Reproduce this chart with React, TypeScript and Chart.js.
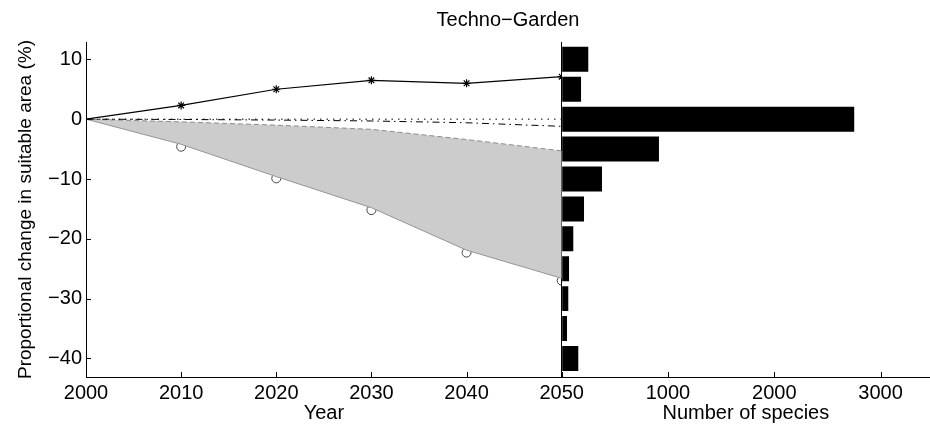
import { useEffect, useRef } from 'react';
import { Chart, registerables } from 'chart.js';

Chart.register(...registerables);

// Years sampled for every scenario line
const YEARS = [2000, 2010, 2020, 2030, 2040, 2050];

// Proportional change in suitable area (%) per line
const GAIN_LINE = [0, 2.3, 5.0, 6.5, 6.0, 7.1];
const ZERO_LINE = [0, 0, 0, 0, 0, 0];
const DASHDOT_LINE = [0, -0.05, -0.15, -0.3, -0.6, -1.2];
const BAND_UPPER = [0, -0.45, -1.0, -1.7, -3.4, -5.3];
const BAND_LOWER = [0, -4.2, -9.6, -14.8, -21.9, -26.6];
const CIRCLE_MARKS = [null, -4.6, -9.9, -15.2, -22.3, -27.0];

// Histogram of species by change class
const BIN_CENTERS = [10, 5, 0, -5, -10, -15, -20, -25, -30, -35, -40];
const SPECIES_COUNTS = [250, 182, 2752, 915, 379, 210, 109, 69, 62, 50, 156];

// Tick values
const YEAR_TICKS = [2000, 2010, 2020, 2030, 2040, 2050];
const COUNT_TICKS = [0, 1000, 2000, 3000];
const CHANGE_TICKS = [-40, -30, -20, -10, 0, 10];

// Axis ranges
const YEAR_MIN = 2000;
const YEAR_MAX = 2050;
const CHANGE_MIN = -43.1;
const CHANGE_MAX = 12.9;
const COUNT_MAX = 3465;

const FONT = "'Liberation Sans', Arial, Helvetica, sans-serif";
const TICK_LEN = 5;

const toPoints = (vals: (number | null)[]) => YEARS.map((x, i) => ({ x, y: vals[i] }));

// MATLAB-style tick marks that point into the plot area
const innerTicks = {
  id: 'innerTicks',
  afterDraw(chart: any) {
    const { ctx, chartArea } = chart;
    ctx.save();
    ctx.strokeStyle = '#000';
    ctx.lineWidth = 1;
    ctx.beginPath();
    for (const id of ['x', 'x2']) {
      const s = chart.scales[id];
      s.ticks.forEach((_t: any, i: number) => {
        const px = Math.round(s.getPixelForTick(i)) + 0.5;
        ctx.moveTo(px, chartArea.bottom);
        ctx.lineTo(px, chartArea.bottom - TICK_LEN);
      });
    }
    const ys = chart.scales.y;
    ys.ticks.forEach((_t: any, i: number) => {
      const py = Math.round(ys.getPixelForTick(i)) + 0.5;
      ctx.moveTo(chartArea.left, py);
      ctx.lineTo(chartArea.left + TICK_LEN, py);
    });
    ctx.stroke();
    ctx.restore();
  },
};

const fixSize = (size: { width?: number; height?: number }) => (scale: any) => {
  if (size.width !== undefined) scale.width = size.width;
  if (size.height !== undefined) scale.height = size.height;
  scale.paddingLeft = 0;
  scale.paddingRight = 0;
  scale.paddingTop = 0;
  scale.paddingBottom = 0;
};

const setTicks = (values: number[]) => (scale: any) => {
  scale.ticks = values.map((value) => ({ value }));
};

export default function App() {
  const ref = useRef<HTMLCanvasElement | null>(null);

  useEffect(() => {
    if (!ref.current) return;
    Chart.defaults.font.family = FONT;
    Chart.defaults.color = '#000';

    const chart = new Chart(ref.current, {
      type: 'line',
      data: {
        datasets: [
          {
            label: 'gain',
            data: toPoints(GAIN_LINE),
            borderColor: '#000',
            borderWidth: 1.2,
            pointStyle: 'star',
            pointRadius: (c: any) => (c.dataIndex === 0 ? 0 : 4),
            pointBorderColor: '#000',
            pointBorderWidth: 1.2,
            tension: 0,
            order: 0,
            xAxisID: 'x',
            yAxisID: 'y',
          },
          {
            label: 'dash-dot',
            data: toPoints(DASHDOT_LINE),
            borderColor: '#000',
            borderWidth: 1,
            borderDash: [7, 4, 1.5, 4],
            pointRadius: 0,
            order: 1,
            xAxisID: 'x',
            yAxisID: 'y',
          },
          {
            label: 'zero',
            data: toPoints(ZERO_LINE),
            borderColor: '#000',
            borderWidth: 1,
            borderDash: [1.5, 5],
            pointRadius: 0,
            order: 2,
            xAxisID: 'x',
            yAxisID: 'y',
          },
          {
            label: 'band upper',
            data: toPoints(BAND_UPPER),
            borderColor: '#8c8c8c',
            borderWidth: 1,
            borderDash: [5, 3],
            pointRadius: 0,
            order: 3,
            xAxisID: 'x',
            yAxisID: 'y',
          },
          {
            label: 'band lower',
            data: toPoints(BAND_LOWER),
            borderColor: '#959595',
            borderWidth: 1,
            backgroundColor: '#cccccc',
            fill: 3,
            pointRadius: 0,
            order: 4,
            xAxisID: 'x',
            yAxisID: 'y',
          },
          {
            label: 'circles',
            data: toPoints(CIRCLE_MARKS),
            showLine: false,
            pointStyle: 'circle',
            pointRadius: 4.5,
            pointBorderColor: '#444',
            pointBackgroundColor: 'rgba(0,0,0,0)',
            pointBorderWidth: 1,
            order: 5,
            xAxisID: 'x',
            yAxisID: 'y',
          },
          {
            type: 'bar',
            label: 'species',
            indexAxis: 'y',
            grouped: false,
            data: BIN_CENTERS.map((y, i) => ({ x: SPECIES_COUNTS[i], y })),
            backgroundColor: '#000',
            borderWidth: 0,
            categoryPercentage: 1,
            barPercentage: 0.835,
            order: 6,
            xAxisID: 'x2',
            yAxisID: 'y',
          } as any,
        ],
      },
      options: {
        responsive: false,
        animation: false,
        events: [],
        layout: { padding: 0, autoPadding: false },
        plugins: {
          legend: { display: false },
          tooltip: { enabled: false },
          title: {
            display: true,
            text: 'Techno\u2212Garden',
            fullSize: false,
            color: '#000',
            font: { family: FONT, size: 20, weight: 'normal' },
            padding: { top: 8, bottom: 10 },
          },
        },
        scales: {
          x: {
            type: 'linear',
            axis: 'x',
            position: 'bottom',
            stack: 'bottomAxes',
            stackWeight: 475.7,
            offset: false,
            min: YEAR_MIN,
            max: YEAR_MAX,
            grid: { display: false, drawTicks: false, offset: false },
            border: { display: true, color: '#000', width: 1 },
            afterBuildTicks: setTicks(YEAR_TICKS),
            ticks: {
              maxRotation: 0,
              autoSkip: false,
              padding: 4,
              color: '#000',
              font: { family: FONT, size: 20 },
              callback: (v: any) => String(v),
            },
            title: {
              display: true,
              text: 'Year',
              color: '#000',
              font: { family: FONT, size: 20 },
              padding: { top: 0, bottom: 0 },
            },
            afterFit: fixSize({ height: 48 }),
          },
          x2: {
            type: 'linear',
            axis: 'x',
            position: 'bottom',
            stack: 'bottomAxes',
            stackWeight: 368.3,
            offset: false,
            z: 1,
            min: 0,
            max: COUNT_MAX,
            grid: {
              display: true,
              drawTicks: false,
              drawOnChartArea: true,
              offset: false,
              lineWidth: 1,
              color: (c: any) => (c.tick && c.tick.value === 0 ? '#000' : 'rgba(0,0,0,0)'),
            },
            border: { display: true, color: '#000', width: 1 },
            afterBuildTicks: setTicks(COUNT_TICKS),
            ticks: {
              maxRotation: 0,
              autoSkip: false,
              padding: 4,
              color: '#000',
              font: { family: FONT, size: 20 },
              callback: (v: any) => (v === 0 ? '' : String(v)),
            },
            title: {
              display: true,
              text: 'Number of species',
              color: '#000',
              font: { family: FONT, size: 20 },
              padding: { top: 0, bottom: 0 },
            },
            afterFit: fixSize({ height: 48 }),
          },
          y: {
            type: 'linear',
            axis: 'y',
            position: 'left',
            offset: false,
            min: CHANGE_MIN,
            max: CHANGE_MAX,
            grid: { display: false, drawTicks: false, offset: false },
            border: { display: true, color: '#000', width: 1 },
            afterBuildTicks: setTicks(CHANGE_TICKS),
            ticks: {
              autoSkip: false,
              padding: 4,
              color: '#000',
              font: { family: FONT, size: 20 },
              callback: (v: any) => String(v).replace('-', '\u2212'),
            },
            title: {
              display: true,
              text: 'Proportional change in suitable area (%)',
              color: '#000',
              font: { family: FONT, size: 19 },
              padding: { top: 14, bottom: 0 },
            },
            afterFit: fixSize({ width: 86 }),
          },
        },
      } as any,
      plugins: [innerTicks],
    });

    return () => chart.destroy();
  }, []);

  return (
    <div
      style={{
        position: 'absolute',
        left: 0,
        top: 0,
        width: 930,
        height: 425,
        background: '#fff',
      }}
    >
      <canvas ref={ref} width={930} height={425} style={{ display: 'block' }} />
    </div>
  );
}
